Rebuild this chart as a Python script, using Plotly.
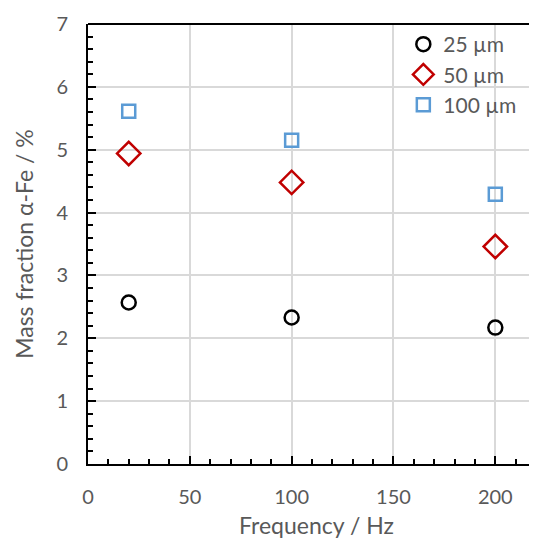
import plotly.graph_objects as go

frequency = [20, 100, 200]
series_names = ["25 µm", "50 µm", "100 µm"]
mass_25 = [2.57, 2.33, 2.17]
mass_50 = [4.94, 4.48, 3.46]
mass_100 = [5.61, 5.15, 4.29]
x_ticks = [0, 50, 100, 150, 200]
y_ticks = [0, 1, 2, 3, 4, 5, 6, 7]

FONT = "Lato"
GREY = "#595959"

fig = go.Figure()
styles = [
    dict(symbol="circle-open", size=14, color="#000000", width=2.5),
    dict(symbol="diamond-open", size=18, color="#c00000", width=2.5),
    dict(symbol="square-open", size=13, color="#5b9bd5", width=2.5),
]
for name, vals, st in zip(series_names, [mass_25, mass_50, mass_100], styles):
    fig.add_trace(go.Scatter(
        x=frequency, y=vals, mode="markers", name=name,
        marker=dict(symbol=st["symbol"], size=st["size"], color=st["color"],
                    line=dict(color=st["color"], width=st["width"])),
    ))

fig.update_layout(
    width=537, height=541,
    margin=dict(l=80, r=0, t=16, b=85, autoexpand=False),
    plot_bgcolor="white", paper_bgcolor="white",
    font=dict(family=FONT, color=GREY, size=20),
    showlegend=True,
    legend=dict(x=0.69, y=1.0, xanchor="left", yanchor="top",
                bgcolor="rgba(0,0,0,0)", font=dict(size=21, color=GREY),
                itemwidth=30, tracegroupgap=0),
    xaxis=dict(range=[0, 224.4], tickvals=x_ticks, showgrid=True, automargin=False,
               gridcolor="#d9d9d9", gridwidth=1.5,
               showline=True, linecolor="black", linewidth=2,
               ticks="inside", ticklen=8, tickwidth=2, tickcolor="black",
               minor=dict(dtick=10, ticks="inside", ticklen=5, tickwidth=2,
                          tickcolor="black", showgrid=False),
               ticklabelstandoff=14, zeroline=False,
               title=dict(text="Frequency / Hz", font=dict(size=23, color=GREY), standoff=11)),
    yaxis=dict(range=[0, 7], tickvals=y_ticks, showgrid=True, automargin=False,
               gridcolor="#d9d9d9", gridwidth=1.5,
               showline=True, linecolor="black", linewidth=2,
               ticks="inside", ticklen=8, tickwidth=2, tickcolor="black",
               minor=dict(dtick=0.2, ticks="inside", ticklen=5, tickwidth=2,
                          tickcolor="black", showgrid=False),
               ticklabelstandoff=14, zeroline=False,
               title=dict(text="Mass fraction α-Fe / %", font=dict(size=23, color=GREY), standoff=16)),
)
fig.add_shape(type="line", xref="paper", yref="paper", x0=0, x1=1, y0=1, y1=1,
              line=dict(color="black", width=2))

fig.write_html("out.html")
